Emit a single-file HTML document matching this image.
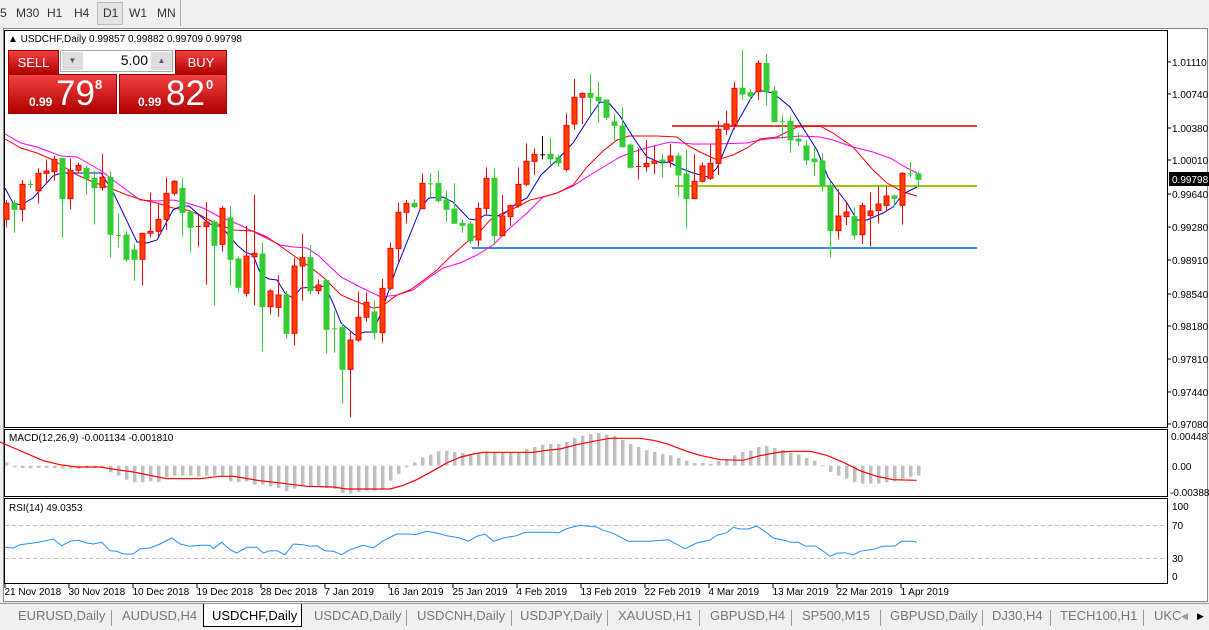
<!DOCTYPE html>
<html><head><meta charset="utf-8"><style>
*{margin:0;padding:0;box-sizing:border-box}
body{width:1209px;height:630px;background:#f0f0f0;font-family:"Liberation Sans",sans-serif;overflow:hidden;position:relative}
.abs{position:absolute}
.tb{top:6px;font-size:12px;color:#333}
.tab{position:absolute;top:608px;font-size:13px;color:#777}
.sep{position:absolute;top:610px;width:1px;height:16px;background:#999}
.rb{position:absolute;background:linear-gradient(#f04040,#b00000);color:#fff;border:1px solid #900}
</style></head><body>
<div class="abs tb" style="left:0">5</div>
<div class="abs tb" style="left:16px">M30</div>
<div class="abs tb" style="left:47px">H1</div>
<div class="abs tb" style="left:74px">H4</div>
<div class="abs" style="left:97px;top:2px;width:26px;height:23px;border:1px solid #bbb;background:#e4e4e4"></div>
<div class="abs tb" style="left:103px">D1</div>
<div class="abs tb" style="left:129px">W1</div>
<div class="abs tb" style="left:157px">MN</div>
<div class="abs" style="left:180px;top:0;width:1px;height:26px;background:#aaa"></div>
<div class="abs" style="left:3px;top:28px;width:1205px;height:574px;background:#fff;border:1px solid #888"></div>
<svg class="abs" style="left:0;top:0" width="1209" height="630" id="sv">
<g fill="none" stroke="#000" stroke-width="1">
<rect x="4.5" y="30.5" width="1163" height="397"/>
<rect x="4.5" y="429.5" width="1163" height="67"/>
<rect x="4.5" y="498.5" width="1163" height="85"/>
</g>
<line x1="672" y1="126" x2="977" y2="126" stroke="#f03c3c" stroke-width="2"/>
<line x1="675" y1="186" x2="977" y2="186" stroke="#99cc00" stroke-width="2"/>
<line x1="472" y1="248" x2="977" y2="248" stroke="#3a8ee6" stroke-width="2"/>
<line x1="5" y1="525.5" x2="1167" y2="525.5" stroke="#c0c0c0" stroke-dasharray="4,3"/>
<line x1="5" y1="558.5" x2="1167" y2="558.5" stroke="#c0c0c0" stroke-dasharray="4,3"/>
<g id="cd"></g>
<g font-size="10" fill="#000" font-family="Liberation Sans,sans-serif">
<text x="1172" y="66">1.01110</text><text x="1172" y="98">1.00740</text><text x="1172" y="132">1.00380</text><text x="1172" y="164">1.00010</text>
<text x="1172" y="198">0.99640</text><text x="1172" y="231">0.99280</text><text x="1172" y="264">0.98910</text><text x="1172" y="298">0.98540</text>
<text x="1172" y="330">0.98180</text><text x="1172" y="363">0.97810</text><text x="1172" y="396">0.97440</text><text x="1172" y="428">0.97080</text>
<text x="1171" y="440">0.004487</text><text x="1172" y="470">0.00</text><text x="1170" y="496">-0.003883</text>
<text x="1172" y="510">100</text><text x="1172" y="529">70</text><text x="1172" y="562">30</text><text x="1172" y="580">0</text>
</g>
<rect x="1169" y="172" width="40" height="14" fill="#000"/>
<text x="1172" y="183" font-size="10" fill="#fff">0.99798</text>
<g stroke="#000"><line x1="1167" y1="62" x2="1171" y2="62"/><line x1="1167" y1="94" x2="1171" y2="94"/><line x1="1167" y1="128" x2="1171" y2="128"/><line x1="1167" y1="160" x2="1171" y2="160"/><line x1="1167" y1="194" x2="1171" y2="194"/><line x1="1167" y1="227" x2="1171" y2="227"/><line x1="1167" y1="260" x2="1171" y2="260"/><line x1="1167" y1="294" x2="1171" y2="294"/><line x1="1167" y1="326" x2="1171" y2="326"/><line x1="1167" y1="359" x2="1171" y2="359"/><line x1="1167" y1="392" x2="1171" y2="392"/><line x1="1167" y1="424" x2="1171" y2="424"/></g>
<g font-size="10" fill="#000" id="tl"></g>
<text x="9" y="441" font-size="10">MACD(12,26,9) -0.001134 -0.001810</text>
<text x="9" y="511" font-size="10">RSI(14) 49.0353</text>
<text x="8" y="42" font-size="10">▲ USDCHF,Daily  0.99857 0.99882 0.99709 0.99798</text>
</svg>
<div class="rb" style="left:8px;top:50px;width:51px;height:25px;font-size:13px;text-align:center;line-height:24px">SELL</div>
<div class="abs" style="left:60px;top:50px;width:113px;height:22px;background:#fff;border:1px solid #aaa"></div>
<div class="abs" style="left:62px;top:52px;width:21px;height:18px;background:#ddd;font-size:8px;color:#557;text-align:center;line-height:18px">▼</div>
<div class="abs" style="left:151px;top:52px;width:21px;height:18px;background:#ddd;font-size:8px;color:#557;text-align:center;line-height:18px">▲</div>
<div class="abs" style="left:84px;top:52px;width:64px;font-size:14px;text-align:right">5.00</div>
<div class="rb" style="left:175px;top:50px;width:52px;height:25px;font-size:13px;text-align:center;line-height:24px">BUY</div>
<div class="rb" style="left:8px;top:74px;width:109px;height:40px"><span class="abs" style="left:20px;top:20px;font-size:12px;font-weight:bold">0.99</span><span class="abs" style="left:47px;top:-1px;font-size:35px">79</span><span class="abs" style="left:86px;top:2px;font-size:13px;font-weight:bold">8</span></div>
<div class="rb" style="left:119px;top:74px;width:108px;height:40px"><span class="abs" style="left:18px;top:20px;font-size:12px;font-weight:bold">0.99</span><span class="abs" style="left:46px;top:-1px;font-size:35px">82</span><span class="abs" style="left:86px;top:2px;font-size:13px;font-weight:bold">0</span></div>
<div class="abs" style="left:0;top:603px;width:1209px;height:1px;background:#999"></div>
<div class="abs" style="left:203px;top:604px;width:99px;height:23px;background:#fff;border:1px solid #000;border-top:none"></div>
<div class="tab" style="left:18px">EURUSD,Daily</div><div class="sep" style="left:111px"></div>
<div class="tab" style="left:122px">AUDUSD,H4</div>
<div class="tab" style="left:212px;color:#000">USDCHF,Daily</div>
<div class="tab" style="left:314px">USDCAD,Daily</div><div class="sep" style="left:406px"></div>
<div class="tab" style="left:417px">USDCNH,Daily</div><div class="sep" style="left:511px"></div>
<div class="tab" style="left:520px">USDJPY,Daily</div><div class="sep" style="left:607px"></div>
<div class="tab" style="left:618px">XAUUSD,H1</div><div class="sep" style="left:699px"></div>
<div class="tab" style="left:710px">GBPUSD,H4</div><div class="sep" style="left:791px"></div>
<div class="tab" style="left:802px">SP500,M15</div><div class="sep" style="left:880px"></div>
<div class="tab" style="left:890px">GBPUSD,Daily</div><div class="sep" style="left:982px"></div>
<div class="tab" style="left:992px">DJ30,H4</div><div class="sep" style="left:1050px"></div>
<div class="tab" style="left:1060px">TECH100,H1</div><div class="sep" style="left:1143px"></div>
<div class="tab" style="left:1154px">UKC</div>
<div class="tab" style="left:1181px;font-size:9px;top:611px;color:#999">◀</div>
<div class="tab" style="left:1197px;font-size:9px;top:611px;color:#000">▶</div>
<script>
var NS="http://www.w3.org/2000/svg",cd=document.getElementById('cd');
function el(t,a){var e=document.createElementNS(NS,t);for(var k in a)e.setAttribute(k,a[k]);cd.appendChild(e);return e;}
var A=[['r',250,298,240,322],['g',250,268,240,338],['r',193,268,180,305],['g',192,196,180,205],['r',160,212,145,250],['r',153,160,118,190],['r',118,155,108,182],['g',115,236,115,352],['r',151,236,115,268],['r',136,151,128,160],['g',145,176,138,224],['g',175,203,153,313],['r',172,203,102,212],['g',172,343,155,412],['g',345,347,280,382],['g',345,418,333,425],['g',390,418,372,482],['r',340,418,340,496],['r',334,340,218,352],['r',298,334,250,350],['r',220,298,172,330],['r',184,220,180,227],['g',205,277,175,350],['g',277,322,270,398],['r',318,322,283,380],['r',306,320,246,494],['g',306,376,300,556],['r',265,373,258,395],['g',294,418,258,496],['g',417,502,410,518],['r',408,520,318,530],['r',400,410,225,556],['g',402,560,368,694],['r',513,560,508,584],['r',525,562,466,590],['g',525,640,513,656],['r',438,640,413,676],['r',413,438,342,542],['g',413,512,375,524],['r',495,512,478,522]];
var B=[['g',662,808,662,880],['g',805,807,752,878],['g',803,928,792,1030],['r',840,928,815,1072],['r',772,840,695,845],['r',727,772,697,785],['g',756,818,722,838],['r',685,818,657,848],['r',565,685,548,690],['r',457,566,428,605],['r',430,457,420,490],['g',430,440,418,445],['r',370,446,340,446],['g',370,372,340,412],['g',370,422,332,428],['g',420,448,392,485],['g',447,490,370,490],['g',490,496,478,518],['g',492,542,485,552],['r',445,540,428,560],['r',355,445,322,465],['g',355,527,325,555],['r',468,527,405,528],['r',437,470,433,497],['r',373,437,322,443],['r',304,373,250,378],['r',283,304,265,345],['k',283,285,228,298],['g',283,296,232,318],['g',293,308,284,320],['r',196,328,160,335],['r',112,192,57,208],['r',100,112,98,192],['g',100,112,42,165],['g',112,122,65,188],['g',120,172,118,180],['g',186,196,162,242],['g',198,260,142,262]];
var C=[['g',315,382,310,385],['r',378,380,325,418],['r',370,380,300,395],['r',363,370,318,402],['g',360,366,342,412],['r',348,363,312,382],['g',348,405,338,470],['g',402,476,328,566],['r',424,476,342,476],['r',378,424,368,428],['r',370,415,312,420],['r',268,370,242,405],['r',252,268,212,285],['r',145,255,125,268],['g',145,162,30,180],['g',158,168,148,180],['r',70,155,62,180],['g',70,155,42,196],['g',153,245,138,245],['g',244,248,226,298],['g',244,300,226,338],['g',297,303,278,318],['g',318,360,302,375],['g',357,365,320,408],['g',363,437,340,455],['g',437,572,426,652],['r',528,572,448,598],['r',516,530,485,555],['g',530,585,502,598],['r',497,584,488,612],['r',513,527,457,620],['r',492,512,440,550],['r',468,496,440,515],['g',468,475,464,498],['r',400,496,396,554],['g',400,404,366,412],['g',402,418,396,442]];
function draw(arr,s,y0){arr.forEach(function(d,k){var x=6+8*(s+k),c=d[0]=='r'?'#ff0000':d[0]=='g'?'#33cc33':'#000',f=d[0]=='r'?'#ff4000':c;
var bt=y0+d[1]/3,bb=y0+d[2]/3,wt=y0+d[3]/3,wb=y0+d[4]/3;
el('line',{x1:x+.5,x2:x+.5,y1:wt,y2:wb,stroke:c});
if(bb-bt<1.5){el('line',{x1:x-2,x2:x+3,y1:bt+.5,y2:bt+.5,stroke:c});}else el('rect',{x:x-2,y:bt,width:5,height:bb-bt,fill:f,stroke:c,'stroke-width':1});});}
// MACD bars
var M=[103,118,120,121,120,120,120,122,122,122,120,120,120,133,143,155,163,163,160,162,148,143,143,143,145,143,143,145,160,162,160,170,170,175,180,190,182,172,178,175,180,183,195,197,192,188,188,185,158,138,118,103,88,80,70,68,72,75,78,75,70,73,73,73,73,63,57,50,48,48,42,30,23,18,15,20,24,36,48,57,67,72,78,82,90,98,105,105,108,99,93,82,72,68,57,54,60,66,75,80,90,98,112,132,143,152,162,167,167,167,163,160,152,146,143];
var z=428+113/3;M.forEach(function(v,i){var y=428+v/3,x=6+8*i;el('rect',{x:x-1,y:Math.min(y,z),width:3.5,height:Math.max(1,Math.abs(y-z)),fill:'#c0c0c0'});});
function pl(pts,ox,oy,sc,col,w){var s=pts.map(function(p){return (ox+p[0]/sc).toFixed(1)+','+(oy+p[1]/sc).toFixed(1)}).join(' ');el('polyline',{points:s,fill:'none',stroke:col,'stroke-width':w||1});}
pl([[0,42],[130,98],[180,110],[230,117],[300,117],[350,125],[400,132],[500,152],[600,152],[660,145],[700,145],[780,158],[850,166],[920,175],[1000,177],[1040,183],[1170,183],[1210,172],[1250,155],[1300,128],[1340,105],[1380,88],[1410,80]],0,428,3,'#ff0000',1.2);
pl([[0,88],[40,78],[70,73],[220,73],[260,67],[300,63],[350,50],[400,40],[450,31],[540,31],[580,37],[620,47],[680,70],[720,82],[780,95],[850,97],[900,83],[960,72],[1000,70],[1050,70],[1100,82],[1150,103],[1200,128],[1250,145],[1300,155],[1370,157]],460,428,3,'#ff0000',1.2);
pl([[15,358],[40,360],[60,350],[100,345],[130,340],[160,333],[185,353],[210,340],[235,337],[260,345],[280,348],[305,343],[330,368],[350,370],[370,378],[400,378],[420,362],[450,360],[480,348],[515,330],[540,348],[570,355],[600,352],[630,352],[640,362],[665,343],[690,365],[710,375],[740,358],[770,358],[790,375],[810,368],[830,368],[855,380],[880,348],[910,350],[930,355],[950,353],[975,368],[1000,370],[1025,380],[1050,365],[1090,352],[1120,360],[1150,338],[1190,318],[1230,318],[1245,320],[1280,310],[1310,315],[1340,323],[1380,330]],0,428,3,'#1e90ff',1);
pl([[0,330],[25,340],[50,325],[75,318],[100,340],[130,330],[170,323],[195,313],[280,313],[295,315],[320,302],[360,292],[380,294],[410,297],[430,307],[460,316],[505,340],[570,340],[625,335],[675,362],[710,345],[750,336],[770,322],[800,314],[820,298],[840,303],[865,303],[890,294],[910,307],[940,330],[980,338],[990,343],[1015,343],[1035,354],[1065,354],[1085,366],[1110,385],[1130,376],[1155,374],[1180,381],[1200,370],[1240,364],[1270,355],[1305,354],[1325,340],[1360,340],[1370,343]],460,428,3,'#1e90ff',1);
// MAs (orig coords)
function po(p,col){el('polyline',{points:p.map(function(q){return q.join(',')}).join(' '),fill:'none',stroke:col,'stroke-width':1});}
po([[5,134],[21,143],[37,147],[61,156],[77,157],[100,170],[117,183],[140,200],[157,201],[173,200],[187,203],[203,208],[220,217],[240,225],[260,235],[280,245],[293,247],[307,248],[319,256],[323,260],[341,277],[360,287],[381,297],[397,295],[413,290],[430,277],[443,268],[460,263],[477,255],[493,245],[510,228],[527,213],[543,197],[557,193],[573,186],[590,175],[610,163],[620,157],[633,152],[650,147],[670,142],[693,144],[717,144],[747,143],[760,140],[777,138],[800,136],[820,137],[833,140],[853,147],[873,152],[890,158],[907,168],[917,173]],'#ff00ff');
po([[5,139],[21,148],[37,153],[53,160],[61,165],[77,175],[93,182],[110,188],[127,195],[143,200],[157,203],[173,208],[187,210],[200,215],[213,222],[233,230],[253,231],[267,237],[283,248],[300,260],[310,267],[323,277],[341,295],[350,299],[373,308],[381,307],[397,295],[410,290],[420,283],[437,270],[450,257],[467,242],[477,235],[490,220],[501,214],[517,207],[530,200],[543,197],[557,193],[573,185],[587,167],[603,151],[617,140],[629,136],[657,136],[677,137],[687,145],[700,152],[717,160],[733,155],[747,148],[760,139],[777,137],[797,127],[820,126],[833,133],[853,147],[873,170],[887,183],[903,192],[917,196]],'#ff0000');
po([[5,188],[13,203],[21,205],[33,198],[53,176],[61,173],[77,173],[101,173],[113,192],[125,217],[137,242],[147,243],[157,240],[173,210],[181,206],[189,206],[205,220],[213,226],[221,226],[237,245],[245,252],[253,255],[261,275],[269,279],[277,280],[285,293],[293,298],[301,288],[317,287],[325,286],[333,303],[341,323],[355,335],[365,332],[373,332],[381,313],[397,267],[413,227],[421,207],[429,198],[443,197],[453,202],[469,219],[477,220],[485,215],[501,216],[517,203],[527,198],[541,175],[557,160],[573,143],[589,118],[600,102],[609,103],[620,116],[633,137],[647,157],[661,163],[669,162],[680,168],[693,173],[708,177],[717,168],[733,130],[750,100],[757,90],[773,93],[790,107],[803,128],[817,150],[828,177],[837,190],[847,203],[857,220],[867,220],[883,213],[893,207],[903,194],[917,187]],'#0000cc');
draw(A,0,120);draw(B,40,60);draw(C,78,40);
// time labels
var T=['21 Nov 2018','30 Nov 2018','10 Dec 2018','19 Dec 2018','28 Dec 2018','7 Jan 2019','16 Jan 2019','25 Jan 2019','4 Feb 2019','13 Feb 2019','22 Feb 2019','4 Mar 2019','13 Mar 2019','22 Mar 2019','1 Apr 2019'];
var tl=document.getElementById('tl');T.forEach(function(t,i){var x=4.5+64*i;var e=document.createElementNS(NS,'text');e.setAttribute('x',x);e.setAttribute('y',595);e.textContent=t;tl.appendChild(e);
var l=document.createElementNS(NS,'line');l.setAttribute('x1',x+.5);l.setAttribute('x2',x+.5);l.setAttribute('y1',584);l.setAttribute('y2',588);l.setAttribute('stroke','#000');tl.appendChild(l);});
</script>
</body></html>
